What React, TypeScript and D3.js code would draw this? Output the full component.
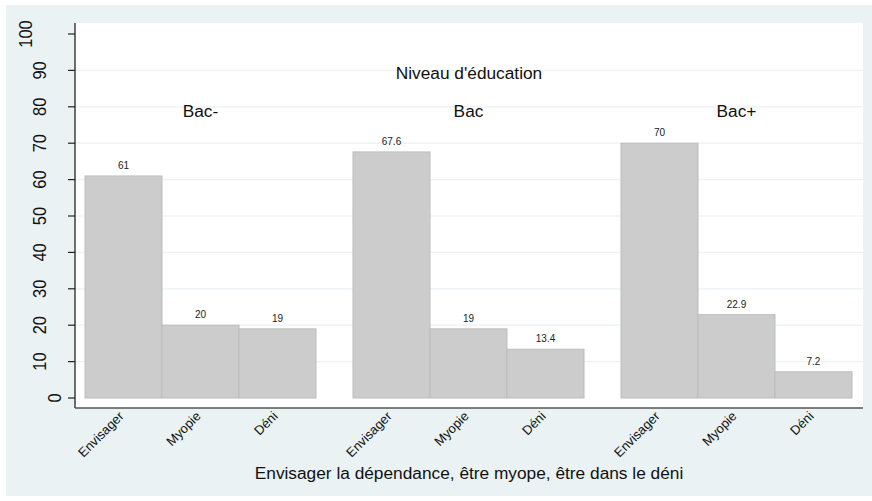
import * as d3 from 'd3'
import React from 'react'

const groups = ['Bac-', 'Bac', 'Bac+']
const categories = ['Envisager', 'Myopie', 'Déni']
const envisager = [61, 67.6, 70]
const myopie = [20, 19, 22.9]
const deni = [19, 13.4, 7.2]
const yTicks = [0, 10, 20, 30, 40, 50, 60, 70, 80, 90, 100]

const W = 872
const H = 501
const font = 'Liberation Sans, Arial, Helvetica, sans-serif'

const App = () => {
  const plot = { left: 75, right: 863, top: 23, bottom: 408 }
  const y = d3.scaleLinear().domain([0, 100]).range([398, 34])
  const xGroup = d3.scaleBand().domain(groups).range([85, 852]).paddingInner(0.138).paddingOuter(0)
  const xCat = d3.scaleBand().domain(categories).range([0, xGroup.bandwidth()]).padding(0)
  const series = [envisager, myopie, deni]

  const bars = groups.flatMap((g, gi) =>
    categories.map((c, ci) => ({ g, c, v: series[ci][gi], x: (xGroup(g) as number) + (xCat(c) as number) }))
  )

  return (
    <svg width={W} height={H} style={{ position: 'absolute', left: 0, top: 0 }} fontFamily={font}>
      <rect x={0} y={0} width={W} height={H} fill="#ffffff" />
      <rect x={6} y={5} width={W - 6} height={491} fill="#eaf2f3" />
      <rect x={plot.left} y={plot.top} width={plot.right - plot.left} height={plot.bottom - plot.top} fill="#ffffff" />
      {/* grid */}
      {yTicks.filter(t => t > 0 && t < 100).map(t => (
        <line key={t} x1={plot.left} x2={plot.right} y1={y(t)} y2={y(t)} stroke="#eaf2f3" strokeWidth={1.2} />
      ))}
      {/* bars */}
      {bars.map((b, i) => (
        <g key={i}>
          <rect x={b.x} y={y(b.v)} width={xCat.bandwidth()} height={y(0) - y(b.v)}
            fill="#cccccc" stroke="#bdbdbd" strokeWidth={1} />
          <text x={b.x + xCat.bandwidth() / 2} y={y(b.v) - 7} fontSize={10} fill="#222" textAnchor="middle">{b.v}</text>
          <text transform={`translate(${b.x + xCat.bandwidth() / 2 + 1},${plot.bottom + 9}) rotate(-45)`}
            fontSize={13} fill="#111" textAnchor="end">{b.c}</text>
        </g>
      ))}
      {/* group labels */}
      {groups.map(g => (
        <text key={g} x={(xGroup(g) as number) + xGroup.bandwidth() / 2} y={117} fontSize={17.3} textAnchor="middle" fill="#111">{g}</text>
      ))}
      <text x={(plot.left + plot.right) / 2} y={79} fontSize={17.3} textAnchor="middle" fill="#111">Niveau d'éducation</text>
      {/* y axis */}
      <line x1={plot.left} x2={plot.left} y1={plot.top} y2={plot.bottom} stroke="#222" strokeWidth={1.3} />
      {yTicks.map(t => {
        const n = String(t).length
        const cx = 54 - 14.5 * (n - 1)
        return (
          <g key={t}>
            <line x1={plot.left - 7} x2={plot.left} y1={y(t)} y2={y(t)} stroke="#222" strokeWidth={1.2} />
            <text transform={`translate(${cx + 6.5},${y(t)}) rotate(-90) scale(1,1.1)`} fontSize={16.5} textAnchor="middle" fill="#111">{t}</text>
          </g>
        )
      })}
      {/* x axis */}
      <line x1={plot.left} x2={plot.right} y1={plot.bottom} y2={plot.bottom} stroke="#555" strokeWidth={1.6} />
      <text x={(plot.left + plot.right) / 2} y={479} fontSize={17.3} textAnchor="middle" fill="#111">
        Envisager la dépendance, être myope, être dans le déni
      </text>
    </svg>
  )
}

export default App
